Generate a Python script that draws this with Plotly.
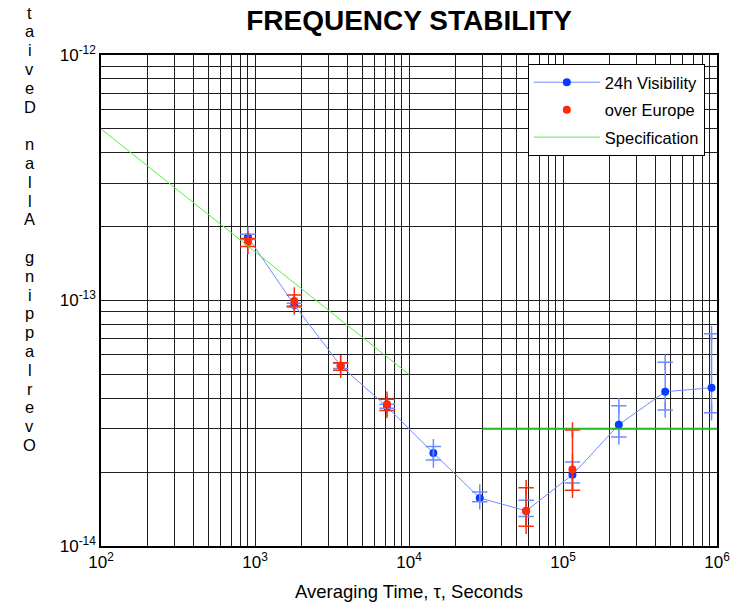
import plotly.graph_objects as go

# ---------------- data ----------------
tau = [900, 1800, 3600, 7200, 14400, 28800, 57600, 115200, 230400, 460800, 921600]
vis_adev = [1.81e-13, 9.59e-14, 5.42e-14, 3.69e-14, 2.39e-14, 1.57e-14, 1.39e-14, 1.95e-14, 3.12e-14, 4.25e-14, 4.41e-14]
vis_hi = [1.86e-13, 9.74e-14, 5.55e-14, 3.78e-14, 2.54e-14, 1.66e-14, 1.535e-14, 2.2e-14, 3.73e-14, 5.6e-14, 7.32e-14]
vis_lo = [1.77e-13, 9.38e-14, 5.29e-14, 3.64e-14, 2.24e-14, 1.515e-14, 1.32e-14, 1.806e-14, 2.78e-14, 3.58e-14, 3.49e-14]

eu_tau = [900, 1800, 3600, 7200, 57600, 115200]
eu_adev = [1.73e-13, 9.95e-14, 5.42e-14, 3.78e-14, 1.39e-14, 2.05e-14]
eu_hi = [1.79e-13, 1.053e-13, 5.58e-14, 3.96e-14, 1.728e-14, 2.97e-14]
eu_lo = [1.66e-13, 9.5e-14, 5.2e-14, 3.56e-14, 1.203e-14, 1.686e-14]

spec_slope_tau = [1e2, 1e4]
spec_slope_adev = [5e-13, 5e-14]
spec_flat_tau = [3e4, 1e6]
spec_flat_adev = [3e-14, 3e-14]

x_tickvals = [1e2, 1e3, 1e4, 1e5, 1e6]
x_ticktext = ["10<sup>2</sup>", "10<sup>3</sup>", "10<sup>4</sup>", "10<sup>5</sup>", "10<sup>6</sup>"]
y_tickvals = [1e-14, 1e-13, 1e-12]
y_ticktext = ["10<sup>-14</sup>", "10<sup>-13</sup>", "10<sup>-12</sup>"]

title_text = "<b>FREQUENCY STABILITY</b>"
x_title = "Averaging Time, \u03c4, Seconds"
y_title = "Overlapping Allan Deviat"  # remaining letters fall outside the picture

FONT = "Liberation Sans, Arial, Helvetica, sans-serif"
BLUE = "#0a3cff"
BLUE_LINE = "#6f8cff"
RED = "#ff2a0a"
GREEN_LIGHT = "#55ee44"
GREEN_DARK = "#22b822"
GRID = "#1e1e1e"

fig = go.Figure()

# 24h visibility
fig.add_trace(go.Scatter(
    x=tau, y=vis_adev, mode="lines+markers", name="24h Visibility",
    line=dict(color=BLUE_LINE, width=1),
    marker=dict(color=BLUE, size=8),
    error_y=dict(type="data", symmetric=False,
                 array=[h - v for h, v in zip(vis_hi, vis_adev)],
                 arrayminus=[v - l for v, l in zip(vis_adev, vis_lo)],
                 color=BLUE_LINE, thickness=1.5, width=0),
    legendgroup="a",
))
fig.add_trace(go.Scatter(
    x=tau + tau, y=vis_hi + vis_lo, mode="markers", showlegend=False, hoverinfo="skip",
    marker=dict(symbol="cross-thin", size=11, line=dict(color=BLUE_LINE, width=1.5)),
))

# over Europe
fig.add_trace(go.Scatter(
    x=eu_tau, y=eu_adev, mode="markers", name="over Europe",
    marker=dict(color=RED, size=8),
    error_y=dict(type="data", symmetric=False,
                 array=[h - v for h, v in zip(eu_hi, eu_adev)],
                 arrayminus=[v - l for v, l in zip(eu_adev, eu_lo)],
                 color=RED, thickness=1.5, width=0),
    legendgroup="b",
))
fig.add_trace(go.Scatter(
    x=eu_tau + eu_tau, y=eu_hi + eu_lo, mode="markers", showlegend=False, hoverinfo="skip",
    marker=dict(symbol="cross-thin", size=11, line=dict(color=RED, width=1.5)),
))

# Specification
fig.add_trace(go.Scatter(
    x=spec_slope_tau, y=spec_slope_adev, mode="lines", name="Specification",
    line=dict(color=GREEN_LIGHT, width=1), legendgroup="c",
))
fig.add_trace(go.Scatter(
    x=spec_flat_tau, y=spec_flat_adev, mode="lines", showlegend=False, hoverinfo="skip",
    line=dict(color=GREEN_DARK, width=2),
))

axis_common = dict(
    type="log", showgrid=True, gridcolor=GRID, gridwidth=1,
    minor=dict(showgrid=True, gridcolor=GRID, gridwidth=1, dtick="D1", ticks=""),
    showline=True, linecolor="black", linewidth=1.5, mirror=True,
    ticks="", zeroline=False,
    tickfont=dict(family=FONT, size=17, color="black"),
)

fig.update_layout(
    width=742, height=602,
    margin=dict(l=101, r=19, t=55, b=56),
    paper_bgcolor="white", plot_bgcolor="white",
    showlegend=True,
    xaxis=dict(range=[2, 6], tickvals=x_tickvals, ticktext=x_ticktext, **axis_common),
    yaxis=dict(range=[-14, -12], tickvals=y_tickvals, ticktext=y_ticktext, **axis_common),
    title=dict(text=title_text, x=0.5, xref="paper", xanchor="center",
               y=1 - 20 / 602, yref="container", yanchor="middle",
               font=dict(family=FONT, size=28, color="black")),
    legend=dict(x=(532 - 101) / 622, y=1 - (64 - 55) / 491, xanchor="left", yanchor="top",
                bordercolor="black", borderwidth=1, bgcolor="white",
                font=dict(family=FONT, size=16.5, color="black"),
                itemwidth=66, tracegroupgap=3),
)

fig.add_annotation(text=x_title, xref="paper", yref="paper", x=0.5, y=(546 - 591) / 491,
                   xanchor="center", yanchor="middle", showarrow=False,
                   font=dict(family=FONT, size=18.5, color="black"))

# y label: upright letters stacked bottom-to-top
for i, ch in enumerate(y_title):
    if ch == " ":
        continue
    ypix = 445 - i * 18.8
    fig.add_annotation(text=ch, xref="paper", yref="paper",
                       x=(29 - 101) / 622, y=1 - (ypix - 55) / 491,
                       xanchor="center", yanchor="middle", showarrow=False,
                       font=dict(family=FONT, size=16.5, color="black"))

fig.write_html("out.html")
